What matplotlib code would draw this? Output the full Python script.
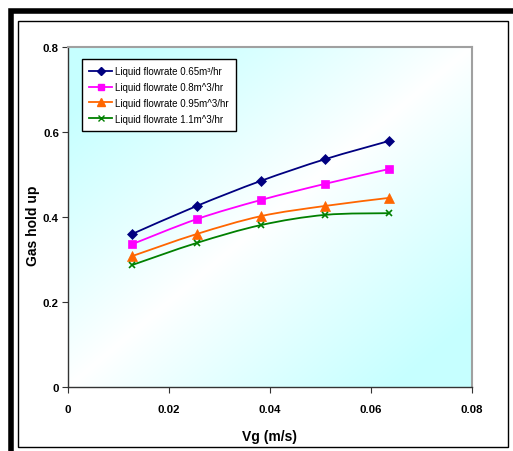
import numpy as np
import matplotlib
matplotlib.use("Agg")
import matplotlib.pyplot as plt
from matplotlib.path import Path
from matplotlib.patches import PathPatch, Rectangle

vg = [0.0127, 0.0255, 0.0382, 0.0509, 0.0636]
s065 = [0.360, 0.426, 0.485, 0.536, 0.579]
s080 = [0.336, 0.395, 0.440, 0.478, 0.513]
s095 = [0.308, 0.360, 0.402, 0.426, 0.445]
s110 = [0.287, 0.339, 0.381, 0.405, 0.409]
labels = ["Liquid flowrate 0.65m³/hr", "Liquid flowrate 0.8m^3/hr",
          "Liquid flowrate 0.95m^3/hr", "Liquid flowrate 1.1m^3/hr"]
colors = ["#000080", "#FF00FF", "#FF6600", "#008000"]
markers = ["D", "s", "^", "x"]
msizes = [5, 5.5, 6.5, 4.5]
xticks = [0, 0.02, 0.04, 0.06, 0.08]
yticks = [0, 0.2, 0.4, 0.6, 0.8]

W, H = 513, 452
fig = plt.figure(figsize=(W / 100, H / 100), dpi=100)

def px(x0, y0, x1, y1):
    return [x0 / W, 1 - y1 / H, (x1 - x0) / W, (y1 - y0) / H]

# outer frames
fig.add_artist(Rectangle((10.5 / W, 1 - 460 / H), 510 / W, (460 - 12) / H,
                         transform=fig.transFigure, fill=False, lw=4.0, ec="black"))
fig.add_artist(Rectangle((18 / W, 1 - 447.5 / H), (507.5 - 18) / W, (447.5 - 22) / H,
                         transform=fig.transFigure, fill=False, lw=1.0, ec="black"))

ax = fig.add_axes(px(68, 48, 472, 388))

# gradient background
n = 200
u = np.linspace(0, 1, n)
U, V = np.meshgrid(u, u)
t = (U + V) / 2
w = np.clip(np.abs(2 * t - 1) * 1.25, 0, 1) ** 0.9
cyan = np.array([0.78, 1.0, 1.0])
img = (1 - w[..., None]) * 1.0 + w[..., None] * cyan
ax.imshow(img, extent=[0, 0.08, 0, 0.8], origin="upper", aspect="auto", zorder=0)

def smooth_path(xs, ys):
    P = np.column_stack([xs, ys])
    verts = [P[0]]
    codes = [Path.MOVETO]
    m = len(P)
    for i in range(m - 1):
        p0 = P[i - 1] if i > 0 else P[i]
        p1, p2 = P[i], P[i + 1]
        p3 = P[i + 2] if i + 2 < m else P[i + 1]
        c1 = p1 + (p2 - p0) / 6
        c2 = p2 - (p3 - p1) / 6
        verts += [c1, c2, p2]
        codes += [Path.CURVE4] * 3
    return Path(verts, codes)

for ys, c, mk, ms, lab in zip([s065, s080, s095, s110], colors, markers, msizes, labels):
    ax.add_patch(PathPatch(smooth_path(vg, ys), fill=False, ec=c, lw=1.3, zorder=2))
    ax.plot(vg, ys, ls="none", marker=mk, color=c, ms=ms, mew=1.2 if mk == "x" else 0.5, zorder=3)
    ax.plot([], [], color=c, marker=mk, ms=ms * 0.85, lw=1.3, label=lab)

ax.set_xlim(0, 0.08)
ax.set_ylim(0, 0.8)
ax.set_xticks(xticks)
ax.set_yticks(yticks)
ax.set_xticklabels(["0", "0.02", "0.04", "0.06", "0.08"])
ax.set_yticklabels(["0", "0.2", "0.4", "0.6", "0.8"])
fam = ["Liberation Sans Narrow", "Liberation Sans", "DejaVu Sans"]
legfam = ["Liberation Sans Narrow", "DejaVu Sans Condensed", "Liberation Sans", "DejaVu Sans"]
for lbl in ax.get_xticklabels() + ax.get_yticklabels():
    lbl.set_family(fam)
    lbl.set_fontweight("bold")
    lbl.set_fontsize(8.2)
ax.tick_params(axis="both", direction="out", length=4, width=0.8, color="#333333")
ax.tick_params(axis="x", pad=8)
ax.tick_params(axis="y", pad=2.5)
for s in ["left", "bottom"]:
    ax.spines[s].set_color("#333333")
    ax.spines[s].set_linewidth(1.0)
for s in ["top", "right"]:
    ax.spines[s].set_color("#A0A0A0")
    ax.spines[s].set_linewidth(1.5)

ax.set_xlabel("Vg (m/s)", fontsize=10, fontweight="bold", family=fam)
ax.set_ylabel("Gas hold up", fontsize=10, fontweight="bold", family=fam)
ax.xaxis.set_label_coords(0.5, -0.123)
ax.yaxis.set_label_coords(-0.07, 0.476)

leg = ax.legend(loc="upper left", bbox_to_anchor=(0.035, 0.965), frameon=True, fancybox=False,
                edgecolor="black", framealpha=1, facecolor="white",
                prop={"family": legfam, "size": 7}, handlelength=2.3, handletextpad=0.3,
                borderpad=0.75, labelspacing=0.6, borderaxespad=0)
leg.get_frame().set_linewidth(1.0)

fig.savefig("out.png", dpi=100)
